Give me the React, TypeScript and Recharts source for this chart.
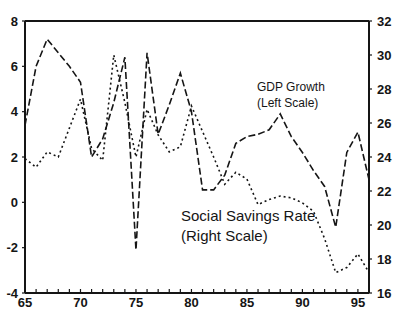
import { LineChart, Line, XAxis, YAxis, ReferenceLine } from "recharts";

// years (19xx), one point per year
const years = [65, 66, 67, 68, 69, 70, 71, 72, 73, 74, 75, 76, 77, 78, 79, 80, 81, 82, 83, 84, 85, 86, 87, 88, 89, 90, 91, 92, 93, 94, 95, 96];

// GDP growth, % (left scale)
const gdpGrowth = [3.4, 6.0, 7.2, 6.6, 6.0, 5.3, 2.0, 2.8, 4.4, 6.4, -2.1, 6.6, 3.0, 4.3, 5.7, 4.0, 0.55, 0.55, 1.2, 2.6, 2.9, 3.0, 3.2, 3.9, 2.9, 2.2, 1.4, 0.7, -1.1, 2.2, 3.1, 1.0];

// Social savings rate, % (right scale)
const savingsRate = [23.9, 23.4, 24.3, 24.0, 25.7, 27.4, 24.5, 23.8, 30.0, 27.2, 24.0, 26.8, 25.3, 24.3, 24.6, 27.0, 25.5, 24.0, 22.4, 23.1, 22.7, 21.2, 21.5, 21.7, 21.6, 21.3, 20.8, 19.2, 17.2, 17.5, 18.3, 17.2];

const leftTicks = [-4, -2, 0, 2, 4, 6, 8];
const rightTicks = [16, 18, 20, 22, 24, 26, 28, 30, 32];
const xLabelEvery = 5;

const data = years.map((y, i) => ({ year: y, gdp: gdpGrowth[i], savings: savingsRate[i] }));

const FONT = '"Liberation Sans", Arial, sans-serif';
const INK = "#151515";

export default function App() {
    const tickStyle = { fill: INK, fontSize: 13, fontWeight: 700, fontFamily: FONT };

    return (
        <div style={{ position: "absolute", left: 0, top: 0, width: 402, height: 310, background: "#fff", fontFamily: FONT }}>
            <LineChart width={402} height={310} data={data} margin={{ top: 21, right: 0, bottom: 0, left: 0 }}>
                <XAxis
                    dataKey="year"
                    type="number"
                    domain={[65, 96]}
                    ticks={years}
                    interval={0}
                    tickFormatter={(v) => (v % xLabelEvery === 0 ? String(v) : "")}
                    height={17}
                    tickSize={-4}
                    tickMargin={9}
                    axisLine={{ stroke: INK, strokeWidth: 2 }}
                    tickLine={{ stroke: INK, strokeWidth: 1.2 }}
                    tick={tickStyle}
                />
                <YAxis
                    yAxisId="left"
                    domain={[-4, 8]}
                    ticks={leftTicks}
                    width={25}
                    tickSize={3}
                    tickMargin={4}
                    axisLine={{ stroke: INK, strokeWidth: 2 }}
                    tickLine={{ stroke: INK, strokeWidth: 1.2 }}
                    tick={tickStyle}
                />
                <YAxis
                    yAxisId="right"
                    orientation="right"
                    domain={[16, 32]}
                    ticks={rightTicks}
                    width={33}
                    tickSize={3}
                    tickMargin={5}
                    axisLine={{ stroke: INK, strokeWidth: 2 }}
                    tickLine={{ stroke: INK, strokeWidth: 1.2 }}
                    tick={tickStyle}
                />
                {/* top frame */}
                <ReferenceLine yAxisId="left" y={8} stroke={INK} strokeWidth={2} />

                <Line yAxisId="left" type="linear" dataKey="gdp" stroke={INK} strokeWidth={1.6} strokeDasharray="7 3" dot={false} isAnimationActive={false} />
                <Line yAxisId="right" type="linear" dataKey="savings" stroke={INK} strokeWidth={1.6} strokeDasharray="2 3" dot={false} isAnimationActive={false} />
            </LineChart>

            <div style={{ position: "absolute", left: 257, top: 79, fontSize: 12, lineHeight: "16px", color: INK }}>
                GDP Growth
                <br />
                (Left Scale)
            </div>
            <div style={{ position: "absolute", left: 181, top: 206, fontSize: 15, lineHeight: "20px", color: INK }}>
                Social Savings Rate
                <br />
                (Right Scale)
            </div>
        </div>
    );
}
